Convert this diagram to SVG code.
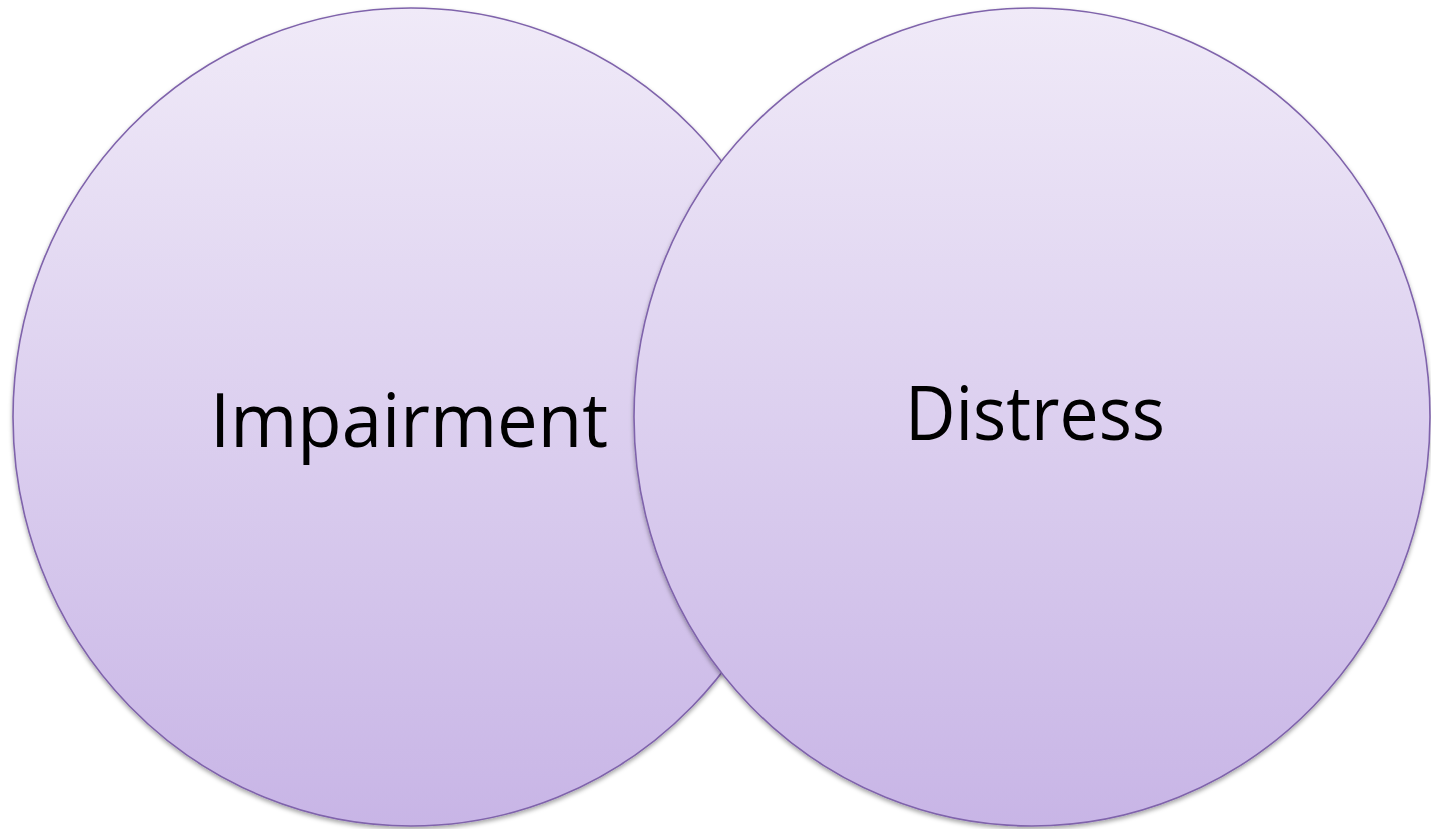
<svg xmlns="http://www.w3.org/2000/svg" width="1431" height="829" viewBox="0 0 1431 829">
<style>
.c{stroke:#7f63ab;stroke-width:1.6;fill:url(#g);filter:url(#sh)}
.t{font-family:"Open Sans","Liberation Sans",sans-serif;font-size:75px;fill:#000;text-anchor:middle}
</style>
<defs>
<linearGradient id="g" x1="0" y1="0" x2="0" y2="1">
<stop offset="0" stop-color="#f0eaf8"/>
<stop offset="1" stop-color="#c8b5e6"/>
</linearGradient>
<filter id="sh" x="-5%" y="-5%" width="110%" height="112%">
<feDropShadow dx="0" dy="2.5" stdDeviation="2" flood-color="#000" flood-opacity="0.35"/>
</filter>
</defs>
<g id="impairment">
<ellipse class="c" cx="411" cy="417" rx="398" ry="409"/>
<text class="t" x="409" y="447" textLength="398" lengthAdjust="spacingAndGlyphs">Impairment</text>
</g>
<g id="distress">
<ellipse class="c" cx="1032" cy="417" rx="398" ry="409"/>
<text class="t" x="1035" y="440" textLength="260" lengthAdjust="spacingAndGlyphs">Distress</text>
</g>
<g id="connectors"/>
</svg>
